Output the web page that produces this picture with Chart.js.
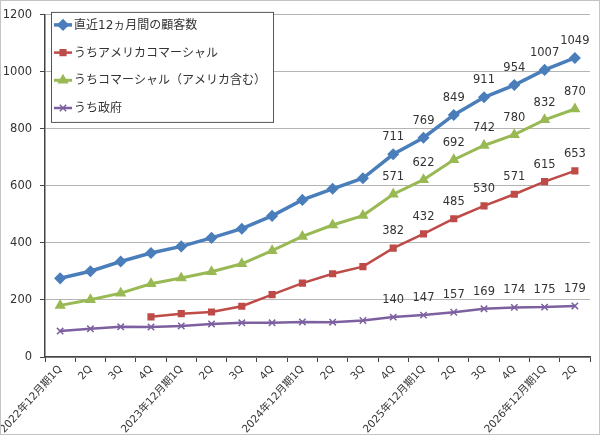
<!DOCTYPE html>
<html>
<head>
<meta charset="utf-8">
<script src="https://cdn.jsdelivr.net/npm/chart.js@4/dist/chart.umd.min.js"></script>
<style>
  html, body { margin: 0; padding: 0; background: #fff; }
  #wrap { width: 600px; height: 435px; }
</style>
</head>
<body>
<div id="wrap"><canvas id="chart" width="600" height="435"></canvas></div>
<script>
const quarters = [
  "2022年12月期1Q", "2Q", "3Q", "4Q",
  "2023年12月期1Q", "2Q", "3Q", "4Q",
  "2024年12月期1Q", "2Q", "3Q", "4Q",
  "2025年12月期1Q", "2Q", "3Q", "4Q",
  "2026年12月期1Q", "2Q"
];
const customers12m = [276, 301, 335, 365, 388, 418, 450, 495, 551, 590, 627, 711, 769, 849, 911, 954, 1007, 1049];
const usCommercial = [null, null, null, 141, 152, 158, 178, 219, 259, 292, 317, 382, 432, 485, 530, 571, 615, 653];
const commercial = [181, 201, 224, 257, 277, 299, 327, 373, 423, 463, 496, 571, 622, 692, 742, 780, 832, 870];
const government = [91, 99, 106, 105, 109, 116, 120, 120, 123, 122, 128, 140, 147, 157, 169, 174, 175, 179];
const yTicks = [0, 200, 400, 600, 800, 1000, 1200];
const firstLabelled = 11;

const FONT = '"DejaVu Sans", "Noto Sans CJK JP", sans-serif';
const INK = "#333333";

// Excel style legend box sitting inside the plot area
const boxLegend = {
  id: "boxLegend",
  beforeDatasetsDraw(chart) {
    const { ctx, chartArea } = chart;
    const x0 = chartArea.left + 6, y0 = chartArea.top - 3;
    const w = 222, h = 110, row = 27.7;
    ctx.save();
    ctx.fillStyle = "#fff";
    ctx.fillRect(x0, y0, w, h);
    ctx.strokeStyle = "#555";
    ctx.lineWidth = 1;
    ctx.strokeRect(x0 + 0.5, y0 + 0.5, w, h);
    chart.data.datasets.forEach((ds, i) => {
      const y = y0 + 13 + i * row;
      ctx.strokeStyle = ds.borderColor;
      ctx.fillStyle = ds.pointBackgroundColor;
      ctx.lineWidth = ds.borderWidth;
      ctx.beginPath();
      ctx.moveTo(x0 + 3, y);
      ctx.lineTo(x0 + 21, y);
      ctx.stroke();
      ctx.lineWidth = 1.5;
      Chart.helpers.drawPoint(ctx, {
        pointStyle: ds.pointStyle,
        radius: ds.pointRadius,
        rotation: 0,
        borderWidth: 1.5
      }, x0 + 12, y);
      ctx.fillStyle = INK;
      ctx.font = "12px " + FONT;
      ctx.textBaseline = "middle";
      ctx.textAlign = "left";
      ctx.fillText(ds.label, x0 + 23, y + 1);
    });
    ctx.restore();
  }
};

// value labels on the most recent quarters
const valueLabels = {
  id: "valueLabels",
  afterDatasetsDraw(chart) {
    const { ctx } = chart;
    ctx.save();
    ctx.font = "11.5px " + FONT;
    ctx.fillStyle = INK;
    ctx.textAlign = "center";
    ctx.textBaseline = "middle";
    chart.data.datasets.forEach((ds, i) => {
      const meta = chart.getDatasetMeta(i);
      meta.data.forEach((pt, j) => {
        if (j < firstLabelled || ds.data[j] == null) return;
        ctx.fillText(String(ds.data[j]), pt.x, pt.y - 17);
      });
    });
    ctx.restore();
  }
};

const outerFrame = {
  id: "outerFrame",
  afterDraw(chart) {
    const { ctx, width, height } = chart;
    ctx.save();
    ctx.strokeStyle = "#c4c4c4";
    ctx.lineWidth = 1;
    ctx.strokeRect(0.5, 0.5, width - 1, height - 1);
    ctx.restore();
  }
};

const series = (label, data, color, style, radius, width) => ({
  label,
  data,
  borderColor: color,
  backgroundColor: color,
  pointBackgroundColor: color,
  pointBorderColor: color,
  pointStyle: style,
  pointRadius: radius,
  pointBorderWidth: 1.5,
  borderWidth: width,
  tension: 0
});

new Chart("chart", {
  type: "line",
  data: {
    labels: quarters,
    datasets: [
      series("直近12ヵ月間の顧客数", customers12m, "#4a7ebb", "rectRot", 5, 3.5),
      series("うちアメリカコマーシャル", usCommercial, "#be4b48", "rect", 4, 2.5),
      series("うちコマーシャル（アメリカ含む）", commercial, "#98b954", "triangle", 5, 3),
      series("うち政府", government, "#7d60a0", "crossRot", 4.5, 2.5)
    ]
  },
  options: {
    responsive: false,
    animation: false,
    layout: { padding: { top: 13, right: 10, left: 0, bottom: 0 } },
    plugins: { legend: { display: false }, tooltip: { enabled: false } },
    scales: {
      x: {
        offset: true,
        grid: { offset: true, drawOnChartArea: false, tickLength: 5, tickColor: "#444", tickWidth: 1 },
        border: { color: "#444", width: 1.5 },
        ticks: {
          autoSkip: false,
          minRotation: 48,
          maxRotation: 48,
          padding: 1,
          color: INK,
          font: { family: FONT, size: 10.5 }
        },
        afterFit(scale) { scale.height = 78; }
      },
      y: {
        min: 0,
        max: 1200,
        afterBuildTicks(scale) { scale.ticks = yTicks.map(v => ({ value: v })); },
        grid: { color: "#b4b4b4", lineWidth: 1, tickLength: 5, tickColor: "#444" },
        border: { color: "#444", width: 1.5 },
        ticks: {
          padding: 8,
          color: INK,
          font: { family: FONT, size: 11.5 },
          callback: v => String(v)
        },
        afterFit(scale) { scale.width = 45; }
      }
    }
  },
  plugins: [boxLegend, valueLabels, outerFrame]
});
</script>
</body>
</html>
